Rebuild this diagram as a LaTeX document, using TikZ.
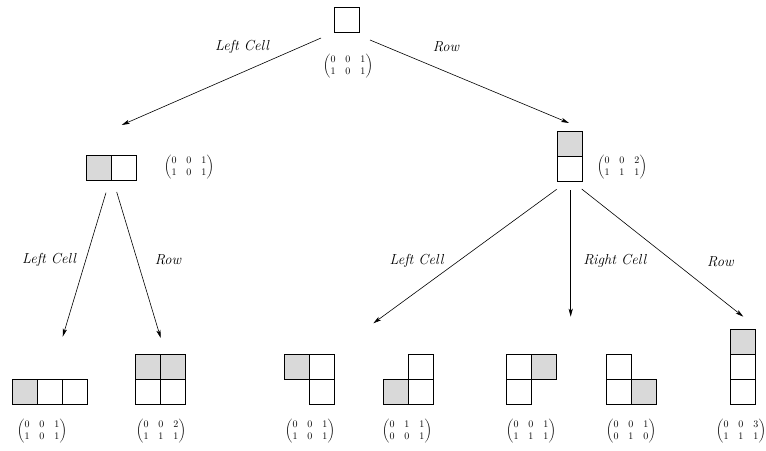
\documentclass[tikz,border=0pt]{standalone}
\usepackage{amsmath}
\usetikzlibrary{arrows.meta}
\definecolor{cellgray}{RGB}{217,217,217}
\tikzset{
  cell/.style={draw=black, line width=0.9pt, minimum size=25pt, inner sep=0pt, outer sep=0pt, fill=white},
  gcell/.style={cell, fill=cellgray},
  mat/.style={inner sep=0pt, font=\fontsize{10}{12}\selectfont},
  lab/.style={inner sep=0pt, font=\fontsize{14.5}{17}\selectfont\itshape},
  arr/.style={line width=0.6pt, -{Stealth[length=8pt,width=4.2pt,inset=2pt]}}
}
\begin{document}
\begin{tikzpicture}[x=1pt,y=-1pt]
\useasboundingbox (0,0) rectangle (766,450);
% top
\node[cell] (top) at (346.5,19.5) {};
\node[mat] (mtop) at (348,66) {$\begin{pmatrix}0&0&1\\1&0&1\end{pmatrix}$};
% level 1 left
\node[gcell] (la) at (99.2,167.8) {};
\node[cell] (lb) at (124.2,167.8) {};
\node[mat] (ml) at (189,167) {$\begin{pmatrix}0&0&1\\1&0&1\end{pmatrix}$};
% level 1 right
\node[gcell] (ra) at (569.5,143.5) {};
\node[cell] (rb) at (569.5,168.5) {};
\node[mat] (mr) at (622,167) {$\begin{pmatrix}0&0&2\\1&1&1\end{pmatrix}$};
% leaf 1
\node[gcell] (p1a) at (24.5,391.5) {};
\node[cell] (p1b) at (49.5,391.5) {};
\node[cell] (p1c) at (74.5,391.5) {};
\node[mat] (m1) at (42,431) {$\begin{pmatrix}0&0&1\\1&0&1\end{pmatrix}$};
% leaf 2
\node[gcell] (p2a) at (148.2,366.5) {};
\node[gcell] (p2b) at (173.2,366.5) {};
\node[cell] (p2c) at (148.2,391.5) {};
\node[cell] (p2d) at (173.2,391.5) {};
\node[mat] (m2) at (161,431) {$\begin{pmatrix}0&0&2\\1&1&1\end{pmatrix}$};
% leaf 3
\node[gcell] (p3a) at (296.8,366.5) {};
\node[cell] (p3b) at (321.8,366.5) {};
\node[cell] (p3c) at (321.8,391.5) {};
\node[mat] (m3) at (310,431) {$\begin{pmatrix}0&0&1\\1&0&1\end{pmatrix}$};
% leaf 4
\node[cell] (p4a) at (421.3,366.5) {};
\node[gcell] (p4b) at (396.3,391.5) {};
\node[cell] (p4c) at (421.3,391.5) {};
\node[mat] (m4) at (407,431) {$\begin{pmatrix}0&1&1\\0&0&1\end{pmatrix}$};
% leaf 5
\node[cell] (p5a) at (519.2,366.5) {};
\node[gcell] (p5b) at (544.2,366.5) {};
\node[cell] (p5c) at (519.2,391.5) {};
\node[mat] (m5) at (531,431) {$\begin{pmatrix}0&0&1\\1&1&1\end{pmatrix}$};
% leaf 6
\node[cell] (p6a) at (619.2,366.5) {};
\node[cell] (p6b) at (619.2,391.5) {};
\node[gcell] (p6c) at (644.2,391.5) {};
\node[mat] (m6) at (631,431) {$\begin{pmatrix}0&0&1\\0&1&0\end{pmatrix}$};
% leaf 7
\node[gcell] (p7a) at (742.5,341.5) {};
\node[cell] (p7b) at (742.5,366.5) {};
\node[cell] (p7c) at (742.5,391.5) {};
\node[mat] (m7) at (741,431) {$\begin{pmatrix}0&0&3\\1&1&1\end{pmatrix}$};
% arrow end points
\coordinate (t1) at (321,38);
\coordinate (t2) at (370,40);
\coordinate (e1) at (121.7,125);
\coordinate (e2) at (569,123);
\coordinate (s3) at (106,192.7);
\coordinate (s4) at (116.7,192);
\coordinate (e3) at (62.7,336.7);
\coordinate (e4) at (160.7,338);
\coordinate (s5) at (556.7,189.3);
\coordinate (s6) at (570.7,190);
\coordinate (s7) at (581.7,189);
\coordinate (e5) at (373.3,323.3);
\coordinate (e6) at (570.7,316.7);
\coordinate (e7) at (743.3,316.7);
\draw[arr] (t1) -- (e1);
\draw[arr] (t2) -- (e2);
\draw[arr] (s3) -- (e3);
\draw[arr] (s4) -- (e4);
\draw[arr] (s5) -- (e5);
\draw[arr] (s6) -- (e6);
\draw[arr] (s7) -- (e7);
% labels
\node[lab] (l1) at (242,47) {Left Cell};
\node[lab] (l2) at (446,47) {Row};
\node[lab] (l3) at (49,260) {Left Cell};
\node[lab] (l4) at (168,260) {Row};
\node[lab] (l5) at (416.5,261) {Left Cell};
\node[lab] (l6) at (614.7,261) {Right Cell};
\node[lab] (l7) at (720.3,262) {Row};
\end{tikzpicture}
\end{document}
